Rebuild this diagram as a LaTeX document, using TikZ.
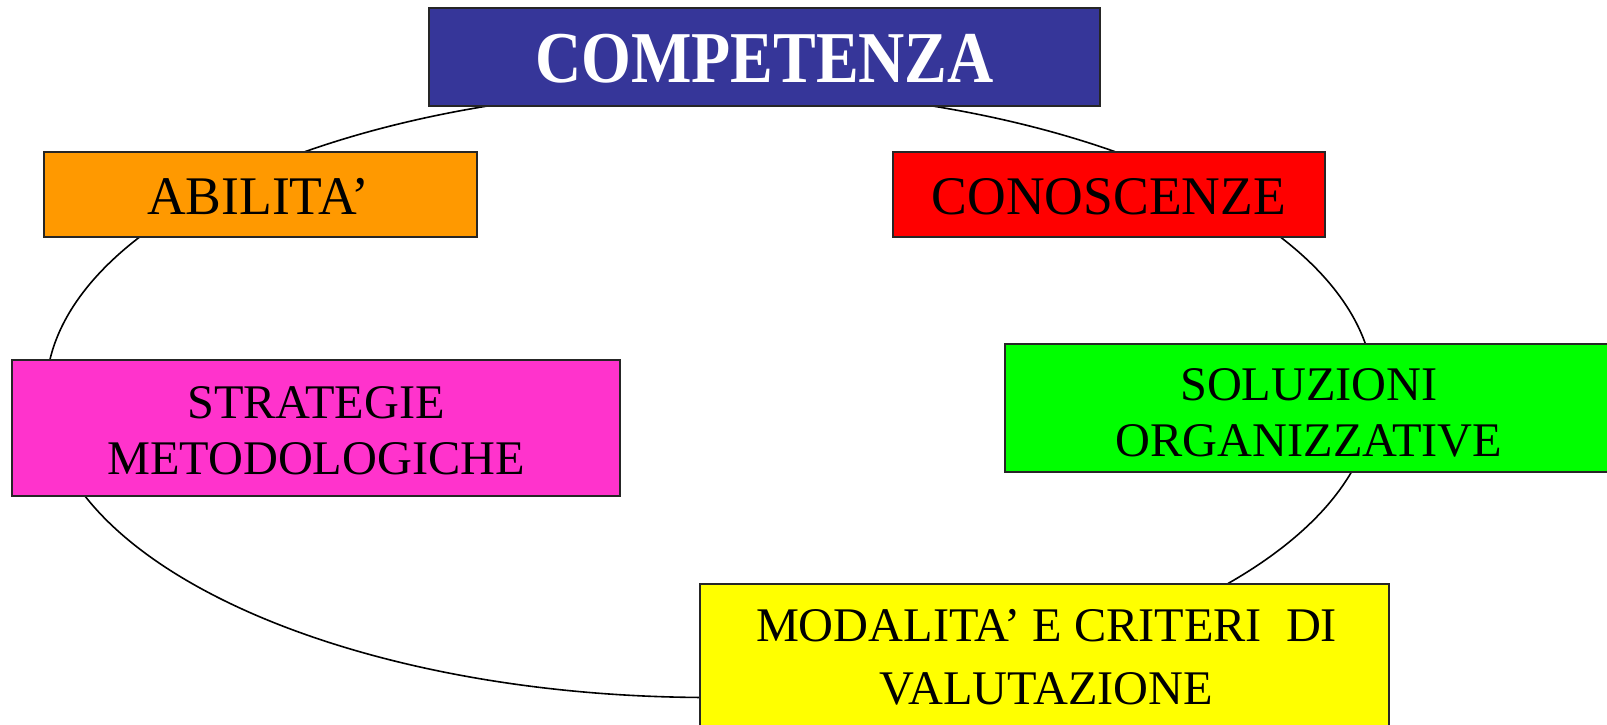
\documentclass[tikz,border=0pt]{standalone}
\usepackage{fontspec}
\setmainfont{Liberation Serif}
\newfontfamily\onefont{Liberation Serif}[FakeStretch=0.985]
\newfontfamily\compfont{Liberation Serif}[FakeStretch=0.877]
\definecolor{cblue}{HTML}{363699}
\definecolor{corange}{HTML}{FF9900}
\definecolor{cred}{HTML}{FF0000}
\definecolor{cmagenta}{HTML}{FF33CC}
\definecolor{cgreen}{HTML}{00FF00}
\definecolor{cyellow}{HTML}{FFFF00}
\tikzset{
  box/.style={draw=black!85, line width=2pt, inner sep=0pt},
  lbl/.style={anchor=base, inner sep=0pt, text=black},
  big/.style={lbl, font=\fontsize{54.4}{60}\selectfont\onefont},
  small/.style={lbl, font=\fontsize{48.3}{56}\selectfont},
  ring/.style={draw=black, line width=1.6pt}
}
\begin{document}
\begin{tikzpicture}[x=1pt, y=-1pt]
\clip (0,0) rectangle (1607,725);
\fill[white] (0,0) rectangle (1607,725);
\draw[ring] (710,393) ellipse [x radius=664, y radius=304.5];
% boxes
\node[box, fill=cblue, minimum width=671pt, minimum height=98pt] (comp) at (764.5,57) {};
\node[box, fill=corange, minimum width=433pt, minimum height=85pt] (abil) at (260.5,194.5) {};
\node[box, fill=cred, minimum width=432pt, minimum height=85pt] (cono) at (1109,194.5) {};
\node[box, fill=cmagenta, minimum width=608pt, minimum height=136pt] (strat) at (316,428) {};
\node[box, fill=cgreen, minimum width=604pt, minimum height=128pt] (sol) at (1307,408) {};
\node[box, fill=cyellow, minimum width=689pt, minimum height=150pt] (mod) at (1044.5,659) {};
% texts
\node[lbl, text=white, font=\fontsize{73}{80}\selectfont\compfont\bfseries] (compT) at (764.5,82) {COMPETENZA};
\node[big] (abilT) at (258,214) {ABILITA’};
\node[big] (conoT) at (1109,214) {CONOSCENZE};
\node[small] (stratT1) at (316,418) {STRATEGIE};
\node[small] (stratT2) at (316,474.5) {METODOLOGICHE};
\node[small] (solT1) at (1309,400) {SOLUZIONI};
\node[small] (solT2) at (1309,456) {ORGANIZZATIVE};
\node[small] (modT1) at (1046.5,641.7) {MODALITA’ E CRITERI~~DI};
\node[small] (modT2) at (1046.5,704) {VALUTAZIONE};
\end{tikzpicture}
\end{document}
